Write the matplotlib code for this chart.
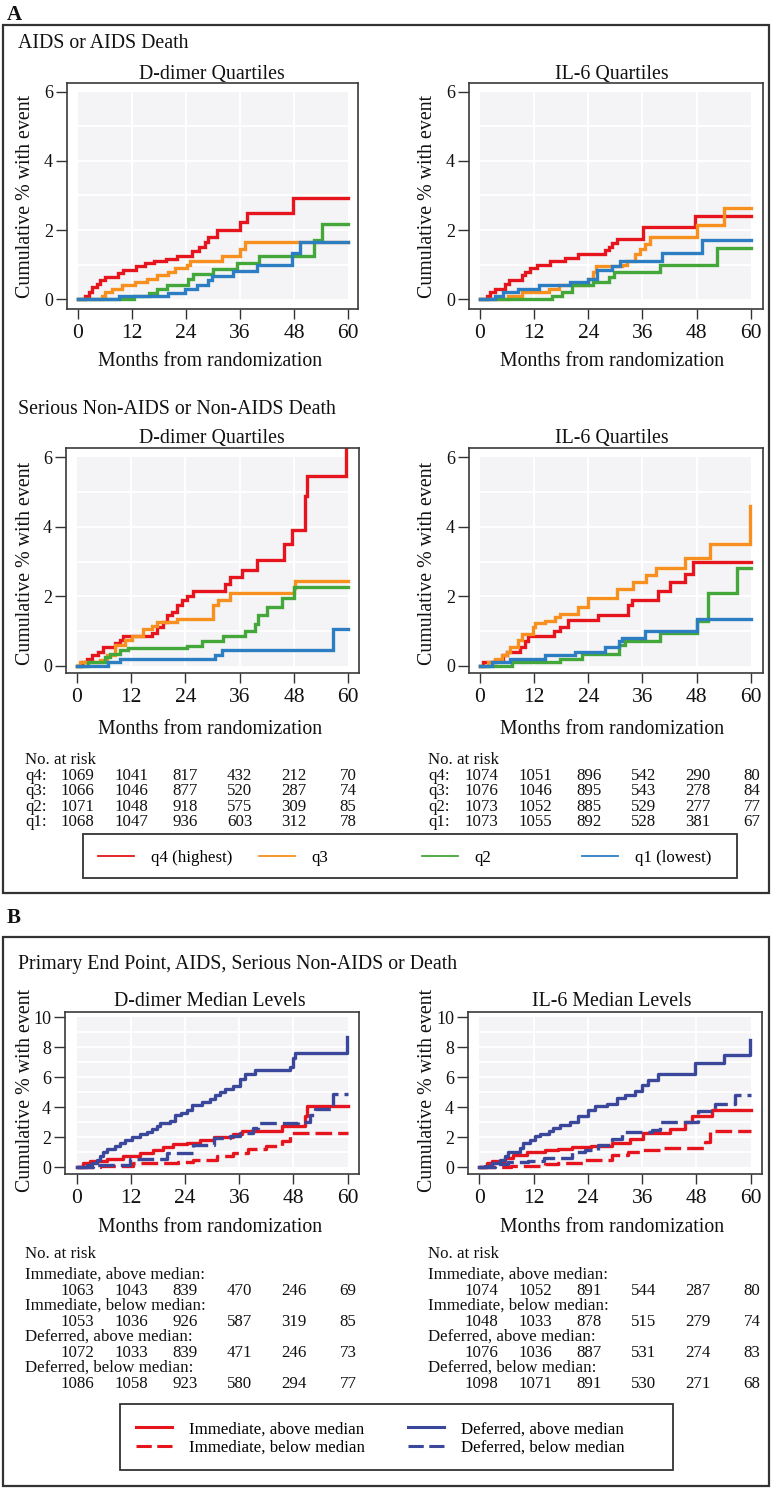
import numpy as np
import matplotlib.pyplot as plt
from matplotlib.patches import Rectangle

plt.rcParams['font.family'] = ['Liberation Serif', 'DejaVu Serif']

# ---- data ----
month_ticks = [0, 12, 24, 36, 48, 60]

# A: AIDS or AIDS death, D-dimer quartiles
dd_aids_q4_t = [0, 1.6, 2.4, 3.1, 4.2, 5.0, 6.0, 9.0, 10.0, 13.0, 15.0, 17.0, 19.5, 22.0, 25.3, 27.0, 28.2, 29.0, 30.8, 36.0, 37.5, 47.8, 60]
dd_aids_q4_y = [0, 0.1, 0.2, 0.35, 0.45, 0.55, 0.65, 0.75, 0.85, 0.95, 1.05, 1.1, 1.17, 1.25, 1.4, 1.5, 1.65, 1.8, 2.0, 2.22, 2.48, 2.93, 2.93]
dd_aids_q3_t = [0, 5.3, 6.0, 7.5, 9.8, 12.7, 15.3, 17.5, 20.1, 21.6, 24.2, 24.9, 31.9, 36.0, 37.1, 60]
dd_aids_q3_y = [0, 0.1, 0.2, 0.3, 0.4, 0.5, 0.6, 0.7, 0.8, 0.9, 1.0, 1.1, 1.25, 1.45, 1.66, 1.66]
dd_aids_q2_t = [0, 12.5, 15.7, 17.5, 19.7, 24.5, 25.6, 30.1, 35.3, 40.1, 52.3, 54.1, 60]
dd_aids_q2_y = [0, 0.1, 0.19, 0.29, 0.4, 0.58, 0.73, 0.87, 1.06, 1.25, 1.7, 2.18, 2.18]
dd_aids_q1_t = [0, 9.1, 20.1, 23.8, 26.4, 29.0, 29.7, 34.5, 39.7, 47.5, 49.3, 60]
dd_aids_q1_y = [0, 0.1, 0.19, 0.31, 0.41, 0.56, 0.67, 0.83, 0.99, 1.33, 1.67, 1.67]

# A: AIDS or AIDS death, IL-6 quartiles
il_aids_q4_t = [0, 1.5, 2.2, 3.3, 5.5, 6.4, 9.2, 9.9, 11.1, 12.6, 15.5, 18.8, 21.8, 27.7, 28.5, 29.2, 30.3, 36.2, 47.7, 60]
il_aids_q4_y = [0, 0.1, 0.2, 0.3, 0.45, 0.55, 0.7, 0.8, 0.9, 1.0, 1.1, 1.2, 1.32, 1.42, 1.52, 1.62, 1.75, 2.1, 2.42, 2.42]
il_aids_q3_t = [0, 6.3, 9.2, 15.2, 17.6, 24.0, 25.0, 25.8, 31.4, 32.5, 34.4, 35.5, 36.6, 37.7, 48.0, 54.0, 60]
il_aids_q3_y = [0, 0.1, 0.2, 0.3, 0.4, 0.6, 0.8, 0.95, 1.0, 1.1, 1.3, 1.45, 1.6, 1.8, 2.15, 2.65, 2.65]
il_aids_q2_t = [0, 15.9, 18.1, 20.3, 25.1, 28.5, 29.6, 39.9, 52.5, 60]
il_aids_q2_y = [0, 0.1, 0.2, 0.4, 0.5, 0.65, 0.78, 1.0, 1.47, 1.47]
il_aids_q1_t = [0, 3.3, 5.2, 8.5, 13.0, 20.0, 24.0, 25.9, 29.2, 31.0, 40.3, 49.2, 60]
il_aids_q1_y = [0, 0.1, 0.2, 0.3, 0.4, 0.5, 0.6, 0.85, 0.95, 1.1, 1.35, 1.72, 1.72]

# A: serious non-AIDS or non-AIDS death, D-dimer quartiles
dd_nona_q4_t = [0, 1.1, 2.2, 3.3, 4.8, 5.9, 8.5, 9.6, 10.3, 16.6, 17.7, 19.1, 19.9, 21.0, 22.1, 23.2, 24.3, 25.8, 32.8, 33.9, 36.5, 39.8, 45.7, 47.5, 50.4, 50.8, 59.6]
dd_nona_q4_y = [0, 0.1, 0.2, 0.3, 0.4, 0.55, 0.65, 0.75, 0.85, 0.95, 1.1, 1.25, 1.45, 1.55, 1.75, 1.9, 2.0, 2.15, 2.35, 2.55, 2.75, 3.05, 3.5, 3.9, 4.9, 5.45, 6.4]
dd_nona_q3_t = [0, 0.7, 5.2, 6.6, 8.5, 10.7, 12.2, 14.7, 16.6, 17.7, 22.1, 30.2, 31.3, 33.9, 47.9, 48.2, 60]
dd_nona_q3_y = [0, 0.1, 0.15, 0.3, 0.6, 0.75, 0.85, 1.05, 1.15, 1.25, 1.35, 1.75, 1.9, 2.1, 2.25, 2.45, 2.45]
dd_nona_q2_t = [0, 2.6, 6.3, 7.4, 9.6, 11.4, 24.3, 27.6, 32.4, 37.2, 39.4, 40.1, 42.0, 45.3, 47.9, 60]
dd_nona_q2_y = [0, 0.1, 0.25, 0.35, 0.45, 0.5, 0.58, 0.7, 0.85, 1.0, 1.2, 1.45, 1.68, 1.95, 2.26, 2.26]
dd_nona_q1_t = [0, 7.0, 9.6, 30.6, 32.0, 56.7, 60]
dd_nona_q1_y = [0, 0.1, 0.2, 0.3, 0.45, 1.07, 1.07]

# A: serious non-AIDS or non-AIDS death, IL-6 quartiles
il_nona_q4_t = [0, 0.7, 3.3, 5.2, 5.9, 8.9, 10.0, 10.7, 16.3, 17.7, 19.6, 26.2, 32.9, 33.6, 39.5, 42.1, 45.4, 47.3, 60]
il_nona_q4_y = [0, 0.1, 0.15, 0.3, 0.4, 0.55, 0.7, 0.85, 1.0, 1.1, 1.32, 1.45, 1.75, 1.9, 2.15, 2.4, 2.65, 3.0, 3.0]
il_nona_q3_t = [0, 1.8, 3.3, 4.8, 5.9, 6.7, 8.5, 9.2, 11.8, 12.3, 14.4, 16.6, 17.7, 21.8, 24.0, 30.3, 34.0, 36.9, 39.1, 45.4, 51.0, 59.8]
il_nona_q3_y = [0, 0.1, 0.2, 0.3, 0.4, 0.55, 0.75, 0.92, 1.1, 1.22, 1.3, 1.4, 1.5, 1.7, 1.95, 2.2, 2.4, 2.6, 2.8, 3.1, 3.5, 4.6]
il_nona_q2_t = [0, 7.0, 17.7, 22.5, 30.7, 32.1, 39.9, 48.0, 50.6, 56.9, 60]
il_nona_q2_y = [0, 0.1, 0.2, 0.35, 0.6, 0.7, 0.95, 1.3, 2.1, 2.8, 2.8]
il_nona_q1_t = [0, 2.6, 6.7, 14.4, 21.0, 27.7, 30.7, 31.4, 36.6, 48.0, 60]
il_nona_q1_y = [0, 0.1, 0.2, 0.3, 0.4, 0.55, 0.7, 0.8, 1.0, 1.35, 1.35]

# B: primary end point, D-dimer median levels
dd_def_above_t = [0, 0.7, 2.2, 3.3, 4.4, 5.2, 5.9, 6.6, 8.5, 9.6, 10.7, 12.2, 14.0, 15.5, 16.6, 17.7, 18.5, 20.7, 21.8, 23.2, 24.4, 25.5, 27.7, 29.5, 30.6, 31.7, 32.8, 34.7, 36.2, 37.3, 39.5, 47.2, 48.0, 48.3, 59.8]
dd_def_above_y = [0, 0.05, 0.15, 0.3, 0.5, 0.75, 1.0, 1.2, 1.4, 1.65, 1.85, 2.05, 2.2, 2.35, 2.55, 2.75, 2.95, 3.1, 3.5, 3.65, 3.85, 4.15, 4.35, 4.55, 4.8, 5.05, 5.25, 5.45, 5.9, 6.25, 6.5, 6.7, 7.3, 7.65, 8.7]
dd_imm_above_t = [0, 1.5, 3.0, 6.6, 10.3, 14.0, 17.0, 19.2, 21.4, 24.4, 27.3, 30.3, 34.7, 36.5, 45.4, 50.6, 50.9, 60]
dd_imm_above_y = [0, 0.3, 0.4, 0.55, 0.75, 0.95, 1.15, 1.35, 1.55, 1.65, 1.8, 2.0, 2.2, 2.4, 2.75, 3.4, 4.1, 4.1]
dd_def_below_t = [0, 3.7, 11.8, 19.9, 25.8, 30.3, 34.0, 36.2, 39.1, 40.2, 49.1, 51.7, 52.8, 56.8, 60]
dd_def_below_y = [0, 0.15, 0.53, 0.93, 1.5, 1.93, 2.1, 2.3, 2.6, 2.95, 3.05, 3.5, 3.9, 4.88, 4.88]
dd_imm_below_t = [0, 5.2, 12.5, 22.5, 25.8, 31.0, 34.7, 38.0, 42.0, 45.4, 47.2, 60]
dd_imm_below_y = [0, 0.1, 0.27, 0.38, 0.49, 0.76, 0.93, 1.2, 1.42, 1.78, 2.31, 2.31]

# B: primary end point, IL-6 median levels
il_def_above_t = [0, 1.3, 2.7, 4.6, 5.7, 6.4, 9.0, 9.7, 11.2, 12.3, 13.4, 15.3, 16.4, 17.8, 20.0, 21.9, 24.1, 25.6, 28.2, 30.4, 32.2, 34.4, 35.9, 37.4, 39.6, 47.7, 54.0, 59.8]
il_def_above_y = [0, 0.1, 0.3, 0.5, 0.75, 1.0, 1.3, 1.6, 1.85, 2.1, 2.25, 2.4, 2.6, 2.85, 3.05, 3.4, 3.85, 4.1, 4.25, 4.6, 4.8, 5.1, 5.5, 5.85, 6.25, 6.95, 7.5, 8.5]
il_imm_above_t = [0, 1.6, 2.7, 5.7, 7.5, 10.5, 14.5, 17.5, 20.4, 24.8, 29.3, 33.3, 36.3, 42.2, 45.5, 47.0, 51.4, 60]
il_imm_above_y = [0, 0.3, 0.45, 0.6, 0.85, 1.05, 1.15, 1.25, 1.35, 1.45, 1.6, 1.9, 2.3, 2.55, 3.0, 3.4, 3.82, 3.82]
il_def_below_t = [0, 3.5, 6.4, 10.8, 14.2, 20.4, 23.4, 26.3, 29.3, 31.5, 38.1, 39.9, 48.4, 52.1, 56.5, 60]
il_def_below_y = [0, 0.2, 0.35, 0.45, 0.65, 1.0, 1.15, 1.5, 1.9, 2.35, 2.5, 3.0, 3.75, 4.2, 4.85, 4.85]
il_imm_below_t = [0, 7.1, 14.5, 17.5, 23.4, 29.3, 32.9, 35.5, 40.3, 49.9, 51.0, 60]
il_imm_below_y = [0, 0.1, 0.2, 0.3, 0.5, 0.8, 1.0, 1.15, 1.3, 1.7, 2.45, 2.45]

# numbers at risk
quart_names = ['q4:', 'q3:', 'q2:', 'q1:']
risk_dd_quart = [[1069, 1041, 817, 432, 212, 70],
                 [1066, 1046, 877, 520, 287, 74],
                 [1071, 1048, 918, 575, 309, 85],
                 [1068, 1047, 936, 603, 312, 78]]
risk_il_quart = [[1074, 1051, 896, 542, 290, 80],
                 [1076, 1046, 895, 543, 278, 84],
                 [1073, 1052, 885, 529, 277, 77],
                 [1073, 1055, 892, 528, 381, 67]]
group_names = ['Immediate, above median:', 'Immediate, below median:',
               'Deferred, above median:', 'Deferred, below median:']
risk_dd_med = [[1063, 1043, 839, 470, 246, 69],
               [1053, 1036, 926, 587, 319, 85],
               [1072, 1033, 839, 471, 246, 73],
               [1086, 1058, 923, 580, 294, 77]]
risk_il_med = [[1074, 1052, 891, 544, 287, 80],
               [1048, 1033, 878, 515, 279, 74],
               [1076, 1036, 887, 531, 274, 83],
               [1098, 1071, 891, 530, 271, 68]]

quart_labels = ['q4 (highest)', 'q3', 'q2', 'q1 (lowest)']
quart_colors = ['#e5141d', '#f7901e', '#43a739', '#2c7dc1']
RED = '#e5141d'
NAVY = '#3a479b'

# ---- layout, in pixels of the 776x1489 picture ----
W, H = 776, 1489
fig = plt.figure(figsize=(W / 100, H / 100), dpi=100)

TXT = 14.3
SMALL = 12.2


def fx(px):
    return px / W


def fy(py):
    return 1 - py / H


def text(x, y, s, **kw):
    kw.setdefault('fontsize', TXT)
    kw.setdefault('va', 'center')
    kw.setdefault('color', '#111111')
    return fig.text(fx(x), fy(y), s, **kw)


def box(x0, y0, x1, y1, lw=1.6):
    fig.add_artist(Rectangle((fx(x0), fy(y1)), (x1 - x0) / W, (y1 - y0) / H,
                             transform=fig.transFigure, fill=False,
                             edgecolor='#333333', linewidth=lw))


def make_ax(frame, data, ymax, ystep):
    x0, y0, x1, y1 = frame
    dx0, dx60, dy0, dytop = data
    ax = fig.add_axes([fx(x0), fy(y1), (x1 - x0) / W, (y1 - y0) / H])
    sx = (dx60 - dx0) / 60
    sy = (dy0 - dytop) / ymax
    ax.set_xlim(-(dx0 - x0) / sx, 60 + (x1 - dx60) / sx)
    ax.set_ylim(-(y1 - dy0) / sy, ymax + (dytop - y0) / sy)
    ax.add_patch(Rectangle((0, 0), 60, ymax, facecolor='#f4f4f6',
                           edgecolor='none', zorder=0))
    ax.hlines(np.arange(1, ymax), 0, 60, color='white', lw=1.4, zorder=0.5)
    ax.vlines(month_ticks[1:-1], 0, ymax, color='white', lw=1.4, zorder=0.5)
    ax.set_xticks(month_ticks)
    ax.set_yticks(np.arange(0, ymax + 1, ystep))
    ax.tick_params(axis='x', labelsize=15.5, length=7, width=1, pad=4,
                   color='#333333', labelcolor='#111111')
    ax.tick_params(axis='y', labelsize=13, length=8, width=1, pad=2,
                   color='#333333', labelcolor='#111111')
    for s in ax.spines.values():
        s.set_color('#3a3a3a')
        s.set_linewidth(1.2)
    return ax


def quart_plot(ax, curves):
    lines = []
    for (t, y), c in zip(curves, quart_colors):
        ln, = ax.plot(t, y, drawstyle='steps-post', color=c, lw=2.4,
                      solid_joinstyle='miter', zorder=2)
        lines.append(ln)
    return lines


def median_plot(ax, imm_a, imm_b, def_a, def_b):
    la, = ax.plot(*imm_a, drawstyle='steps-post', color=RED, lw=2.4, zorder=2)
    lb, = ax.plot(*imm_b, drawstyle='steps-post', color=RED, lw=2.4, zorder=2,
                  dashes=(5, 1.8))
    lc, = ax.plot(*def_a, drawstyle='steps-post', color=NAVY, lw=2.4, zorder=2)
    ld, = ax.plot(*def_b, drawstyle='steps-post', color=NAVY, lw=2.4, zorder=2,
                  dashes=(5, 1.8))
    return [la, lb, lc, ld]


# ================= panel A =================
box(3, 25, 769, 893)
text(7, 15, 'A', fontweight='bold', fontsize=15)
text(18, 43, 'AIDS or AIDS Death')

ax1 = make_ax((67, 83, 358, 309), (77.7, 348.3, 299.3, 91.7), 6, 2)
quart_lines = quart_plot(ax1, [(dd_aids_q4_t, dd_aids_q4_y), (dd_aids_q3_t, dd_aids_q3_y),
                               (dd_aids_q2_t, dd_aids_q2_y), (dd_aids_q1_t, dd_aids_q1_y)])
ax2 = make_ax((469, 83, 763, 309), (480, 750.7, 299.3, 91.7), 6, 2)
quart_plot(ax2, [(il_aids_q4_t, il_aids_q4_y), (il_aids_q3_t, il_aids_q3_y),
                 (il_aids_q2_t, il_aids_q2_y), (il_aids_q1_t, il_aids_q1_y)])

text(212, 75, 'D-dimer Quartiles', ha='center')
text(612, 75, 'IL-6 Quartiles', ha='center')
for xc in (26, 427):
    text(xc, 196, 'Cumulative % with event', rotation=90, ha='center')
text(210, 362, 'Months from randomization', ha='center')
text(612, 362, 'Months from randomization', ha='center')

text(18, 410, 'Serious Non-AIDS or Non-AIDS Death')
ax3 = make_ax((66, 448, 359, 673), (76.7, 348.3, 665.7, 457.3), 6, 2)
quart_plot(ax3, [(dd_nona_q4_t, dd_nona_q4_y), (dd_nona_q3_t, dd_nona_q3_y),
                 (dd_nona_q2_t, dd_nona_q2_y), (dd_nona_q1_t, dd_nona_q1_y)])
ax4 = make_ax((469, 448, 763, 673), (480, 750.7, 665.7, 457.3), 6, 2)
quart_plot(ax4, [(il_nona_q4_t, il_nona_q4_y), (il_nona_q3_t, il_nona_q3_y),
                 (il_nona_q2_t, il_nona_q2_y), (il_nona_q1_t, il_nona_q1_y)])

text(212, 439, 'D-dimer Quartiles', ha='center')
text(612, 439, 'IL-6 Quartiles', ha='center')
for xc in (26, 427):
    text(xc, 563, 'Cumulative % with event', rotation=90, ha='center')
text(210, 730, 'Months from randomization', ha='center')
text(612, 730, 'Months from randomization', ha='center')

# numbers at risk, quartiles
col_step = 54.2
for x_lab, x_num, table in ((25, 77, risk_dd_quart), (428, 481, risk_il_quart)):
    text(x_lab, 760, 'No. at risk', fontsize=SMALL)
    for i, (name, row) in enumerate(zip(quart_names, table)):
        yy = 776 + i * 15.4
        text(x_lab, yy, name, fontsize=SMALL)
        for j, n in enumerate(row):
            text(x_num + j * col_step, yy, str(n), fontsize=SMALL, ha='center')

# legend A
box(83, 834, 737, 878, lw=1.3)
for ln, lab, xs in zip(quart_lines, quart_labels, [98, 259, 422, 582]):
    leg = fig.legend([ln], [lab], loc='center left', bbox_to_anchor=(fx(xs), fy(858)),
                     frameon=False, fontsize=SMALL, handlelength=2.1,
                     handletextpad=1.0, borderpad=0, borderaxespad=0)
    for hl in leg.get_lines():
        hl.set_linewidth(1.3)

# ================= panel B =================
box(3, 937, 769, 1486)
text(7, 918, 'B', fontweight='bold', fontsize=15)
text(18, 965, 'Primary End Point, AIDS, Serious Non-AIDS or Death')

ax5 = make_ax((65, 1012, 359, 1174), (76.7, 347.7, 1167.3, 1017.3), 10, 2)
med_lines = median_plot(ax5, (dd_imm_above_t, dd_imm_above_y), (dd_imm_below_t, dd_imm_below_y),
                        (dd_def_above_t, dd_def_above_y), (dd_def_below_t, dd_def_below_y))
ax6 = make_ax((468, 1012, 762, 1174), (479.3, 750.7, 1167.3, 1017.3), 10, 2)
median_plot(ax6, (il_imm_above_t, il_imm_above_y), (il_imm_below_t, il_imm_below_y),
            (il_def_above_t, il_def_above_y), (il_def_below_t, il_def_below_y))

text(210, 1002, 'D-dimer Median Levels', ha='center')
text(612, 1002, 'IL-6 Median Levels', ha='center')
for xc in (26, 427):
    text(xc, 1090, 'Cumulative % with event', rotation=90, ha='center')
text(210, 1228, 'Months from randomization', ha='center')
text(612, 1228, 'Months from randomization', ha='center')

for x_lab, x_num, table in ((25, 77, risk_dd_med), (428, 481, risk_il_med)):
    text(x_lab, 1254, 'No. at risk', fontsize=SMALL)
    for i, (name, row) in enumerate(zip(group_names, table)):
        yy = 1275 + i * 31
        text(x_lab, yy, name, fontsize=SMALL)
        for j, n in enumerate(row):
            text(x_num + j * col_step, yy + 16, str(n), fontsize=SMALL, ha='center')

# legend B
box(120, 1404, 673, 1470, lw=1.3)
for pair, xs in ((med_lines[:2], 136), (med_lines[2:], 408)):
    labs = [group_names[med_lines.index(l)].rstrip(':') for l in pair]
    leg = fig.legend(pair, labs, loc='center left', bbox_to_anchor=(fx(xs), fy(1438.5)),
                     frameon=False, fontsize=SMALL, handlelength=2.1,
                     handletextpad=1.0, borderpad=0, borderaxespad=0,
                     labelspacing=0.15)
    for hl in leg.get_lines():
        hl.set_linewidth(2.2)

fig.savefig('out.png', dpi=100)
